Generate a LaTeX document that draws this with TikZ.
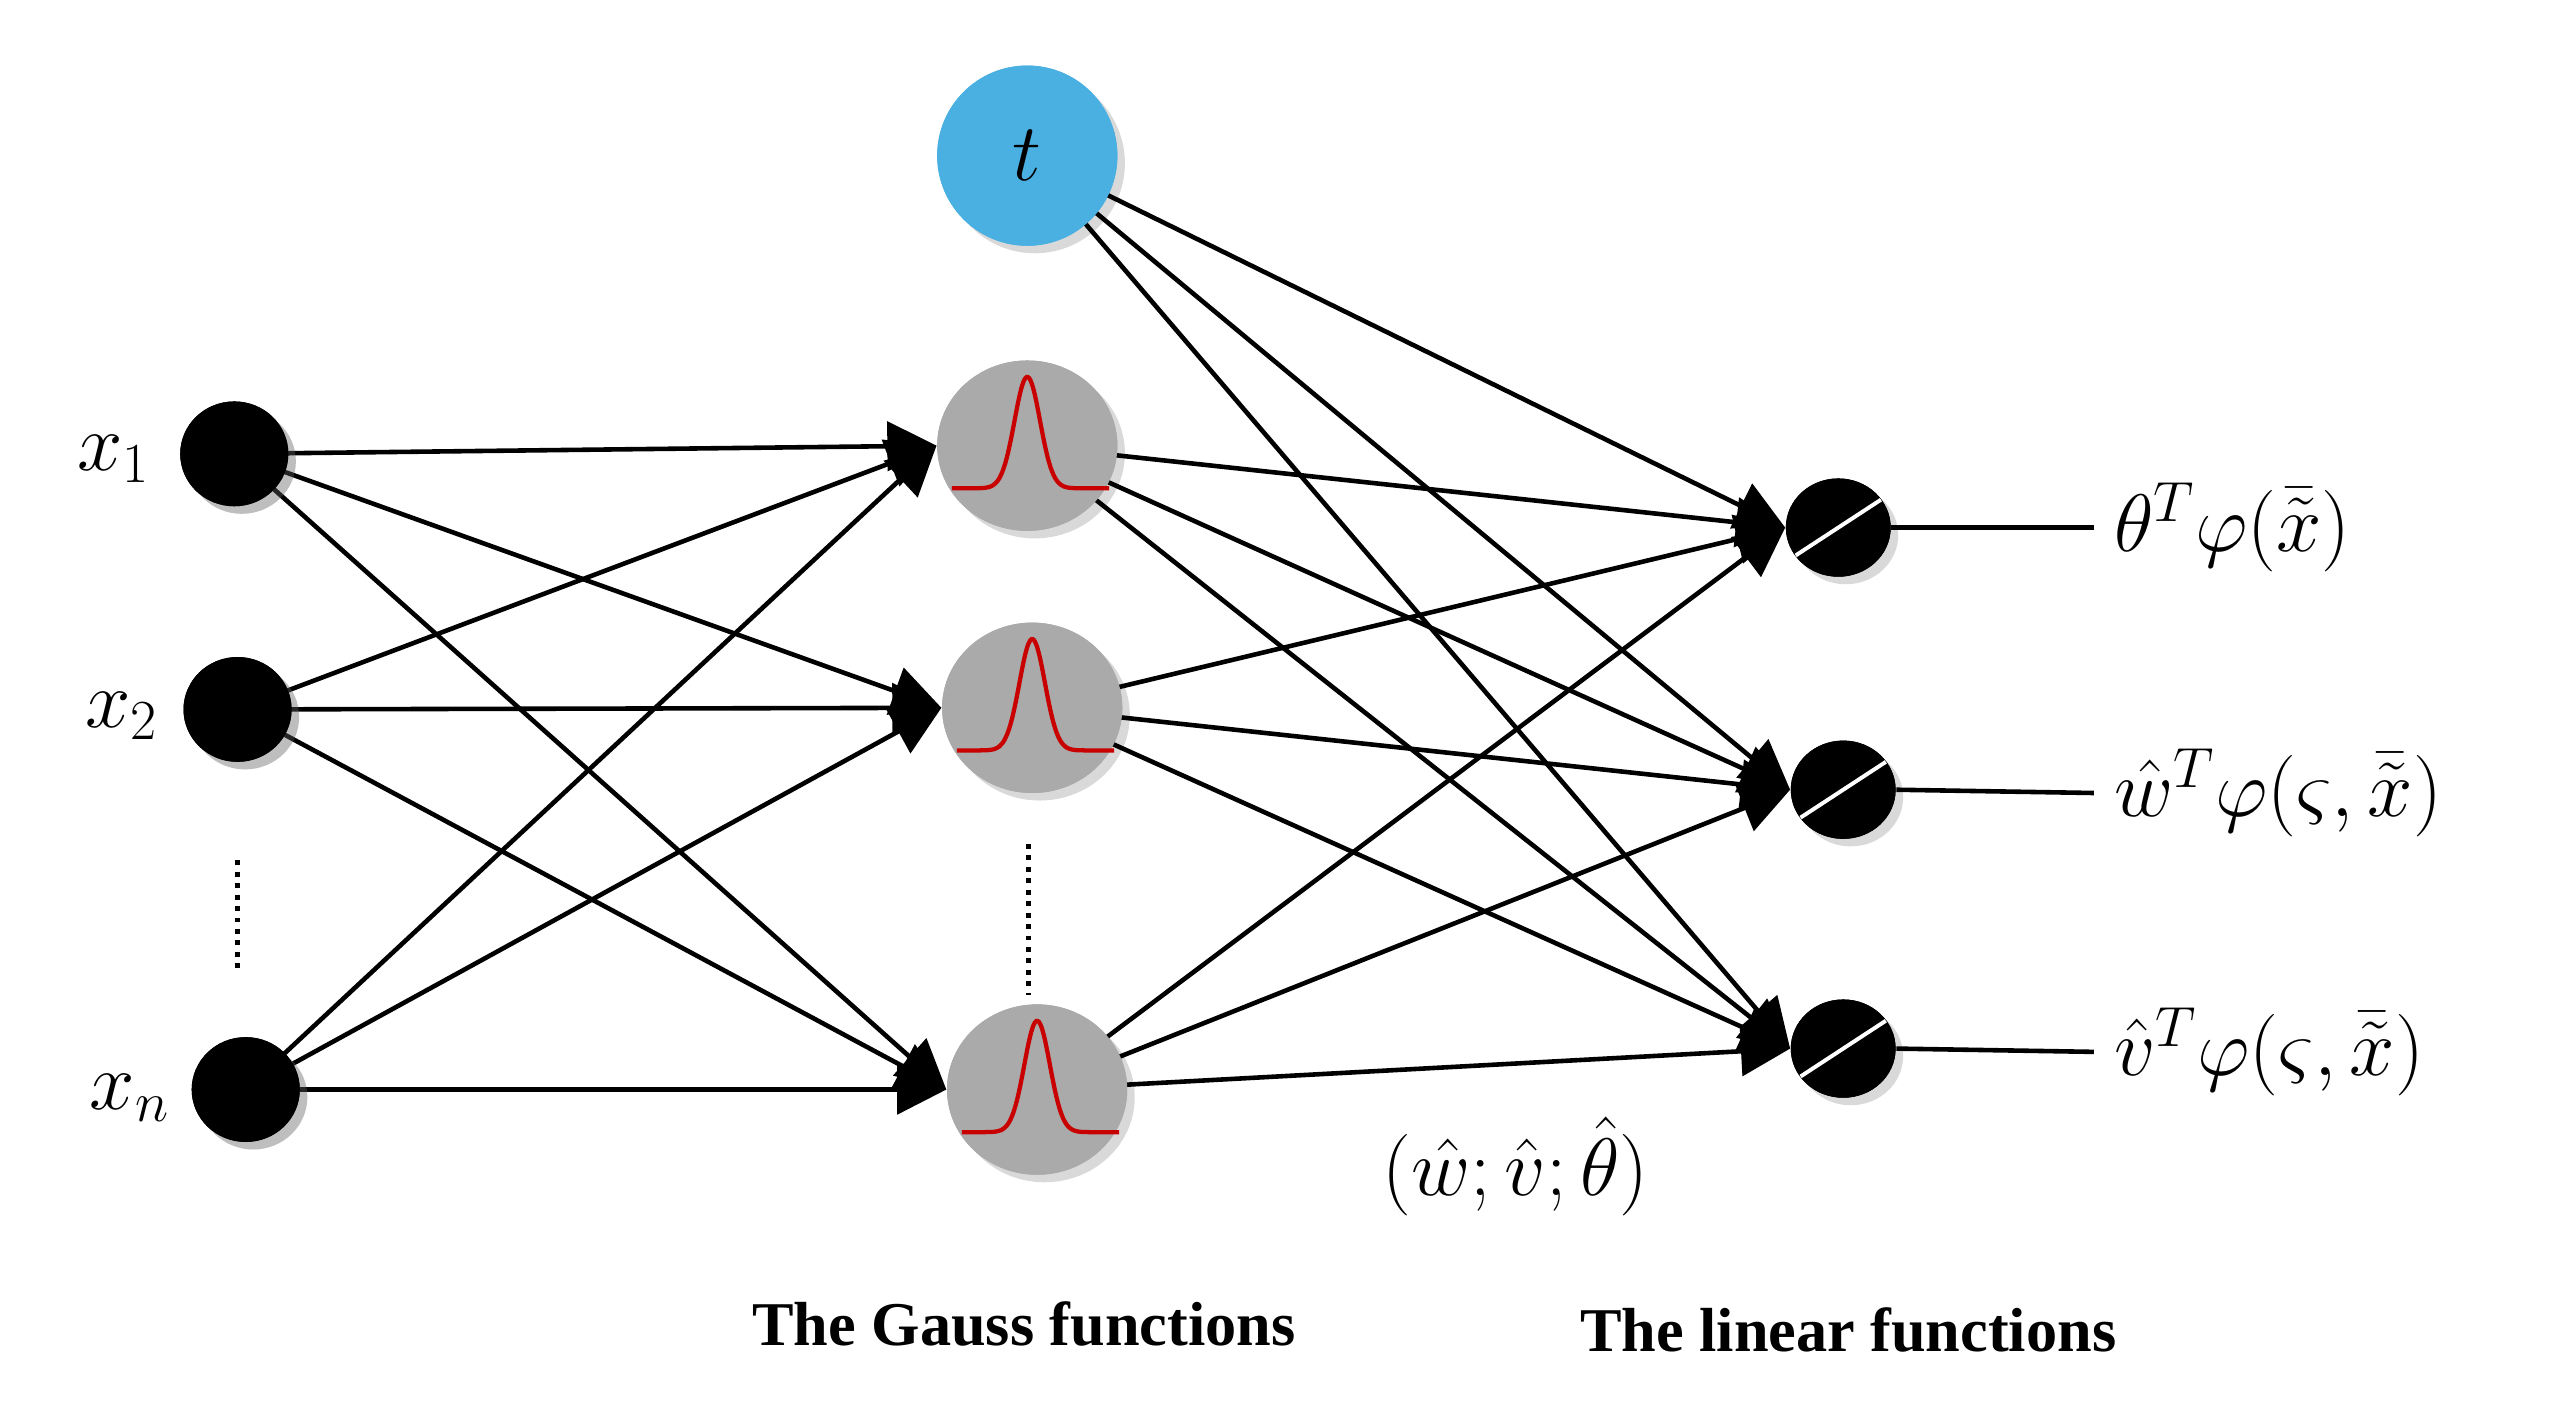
\documentclass[tikz,border=0pt]{standalone}
\usepackage{fontspec}
\setmainfont{Liberation Serif}
\usetikzlibrary{arrows.meta,shadows,shapes.geometric}
\definecolor{tblue}{RGB}{74,176,226}
\definecolor{ggray}{RGB}{170,170,170}
\definecolor{gred}{RGB}{200,0,0}
\begin{document}
\begin{tikzpicture}[x=0.5pt,y=-0.5pt,
  inp/.style={ellipse,fill=black,minimum width=33pt,minimum height=32pt,inner sep=0pt,drop shadow={opacity=0.3}},
  gau/.style={ellipse,fill=ggray,minimum width=55pt,minimum height=52pt,inner sep=0pt,drop shadow={opacity=0.3}},
  outn/.style={ellipse,fill=black,minimum width=32pt,minimum height=30pt,inner sep=0pt,drop shadow={opacity=0.3}},
  con/.style={line width=1.4pt,-{Triangle[length=15pt,width=15pt]}},
  pl/.style={line width=1.4pt},
  lab/.style={font=\fontsize{24}{28}\selectfont,anchor=west,inner sep=0pt},
  captxt/.style={font=\fontsize{19}{22}\selectfont\bfseries}]
\useasboundingbox (0,0) rectangle (1568,864);
% input nodes
\node[inp] (x1) at (143,277) {};
\node[inp] (x2) at (145,433) {};
\node[inp] (xn) at (150,665) {};
% hidden
\node[circle,fill=tblue,minimum size=55pt,inner sep=0pt,drop shadow={opacity=0.3},font=\fontsize{26}{30}\selectfont] (t) at (627,95) {$t$};
\node[gau] (g1) at (627,272) {};
\node[gau] (g2) at (630,432) {};
\node[gau] (g3) at (633,665) {};
% outputs
\node[outn] (o1) at (1122,322) {};
\node[outn] (o2) at (1125,482) {};
\node[outn] (o3) at (1125,640) {};
% connectors input -> gauss
\foreach \i in {x1,x2,xn}{
  \foreach \g in {g1,g2,g3}{
    \draw[con] (\i.center) -- (\g.west);
  }
}
% gauss/t -> outputs
\foreach \g in {t,g1,g2,g3}{
  \foreach \o in {o1,o2,o3}{
    \draw[con] (\g.center) -- (\o.west);
  }
}
% redraw nodes on top of line starts
\node[inp] at (143,277) {};
\node[inp] at (145,433) {};
\node[inp] at (150,665) {};
\node[circle,fill=tblue,minimum size=55pt,inner sep=0pt,font=\fontsize{26}{30}\selectfont] at (627,95) {$t$};
\foreach \p in {(627,272),(630,432),(633,665)}{
  \node[ellipse,fill=ggray,minimum width=55pt,minimum height=52pt,inner sep=0pt] (tmp) at \p {};
  \draw[gred,line width=1.3pt] plot[domain=-46:50,samples=60,smooth] ([shift={(\x,{26-68*exp(-(\x/11)^2)})}]tmp.center);
}
\foreach \p in {(1122,322),(1125,482),(1125,640)}{
  \node[ellipse,fill=black,minimum width=32pt,minimum height=30pt,inner sep=0pt] (tmo) at \p {};
  \draw[white,line width=1.2pt] ([shift={(-26,17)}]tmo.center) -- ([shift={(26,-17)}]tmo.center);
}
% dotted
\draw[line width=1.5pt,dotted] (145,525) -- (145,592);
\draw[line width=1.5pt,dotted] (628,515) -- (628,607);
% output lines
\coordinate (e1) at (1278,322);
\coordinate (e2) at (1278,484);
\coordinate (e3) at (1278,642);
\draw[pl] (o1.east) -- (e1);
\draw[pl] (o2.east) -- (e2);
\draw[pl] (o3.east) -- (e3);
% labels
\node[lab] (l1) at (1290,322) {$\theta^{T}\varphi(\bar{\tilde{x}})$};
\node[lab] (l2) at (1290,484) {$\hat{w}^{T}\varphi(\varsigma,\bar{\tilde{x}})$};
\node[lab] (l3) at (1290,642) {$\hat{v}^{T}\varphi(\varsigma,\bar{\tilde{x}})$};
\node[lab,anchor=east] (lx1) at (92,280) {$x_1$};
\node[lab,anchor=east] (lx2) at (97,437) {$x_2$};
\node[lab,anchor=east] (lxn) at (104,670) {$x_n$};
\node[font=\fontsize{24}{28}\selectfont] (w) at (925,712) {$(\hat{w};\hat{v};\hat{\theta})$};
\node[captxt] (c1) at (625,808) {The Gauss functions};
\node[captxt] (c2) at (1128,812) {The linear functions};
\end{tikzpicture}
\end{document}
